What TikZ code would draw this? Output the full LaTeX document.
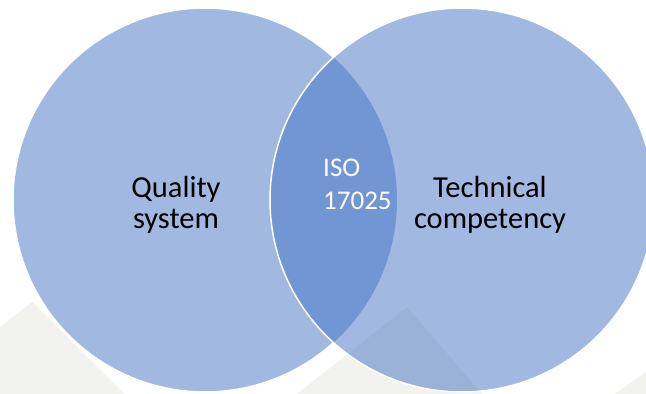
\documentclass[tikz,border=0pt]{standalone}
\usepackage{fontspec}
\setmainfont{Carlito}
\definecolor{vennblue}{HTML}{4472C4}
\definecolor{slidegrey}{HTML}{F2F2EE}
\tikzset{
  venn/.style={circle,minimum size=384pt,inner sep=0pt,fill=vennblue,fill opacity=0.5},
  vennline/.style={white,line width=1.5pt},
  vennlabel/.style={inner sep=0pt,font=\fontsize{30.5}{31}\selectfont,align=center}
}
\begin{document}
\begin{tikzpicture}[x=1pt,y=1pt]
\useasboundingbox (0,0) rectangle (646,394);
\fill[slidegrey] (0,0) -- (0,67) -- (32,92) -- (124,0) -- cycle;
\fill[slidegrey] (297,0) -- (407,87) -- (482,0) -- cycle;
\fill[slidegrey] (615,0) -- (646,22) -- (646,0) -- cycle;
\node[venn] (quality) at (205,194) {};
\node[venn] (technical) at (462,194) {};
\draw[vennline] (technical.center) circle[radius=192];
\draw[vennline] ([shift={(48:192)}]quality.center) arc[start angle=48,end angle=312,radius=192];
\node[vennlabel] (qualitytext) at (176,189) {Quality\\system};
\node[vennlabel] (technicaltext) at (490,189) {Technical\\competency};
\node[vennlabel,white,font=\fontsize{27}{33}\selectfont,align=left,anchor=west] (isotext) at (323,210) {ISO\\17025};
\end{tikzpicture}
\end{document}
